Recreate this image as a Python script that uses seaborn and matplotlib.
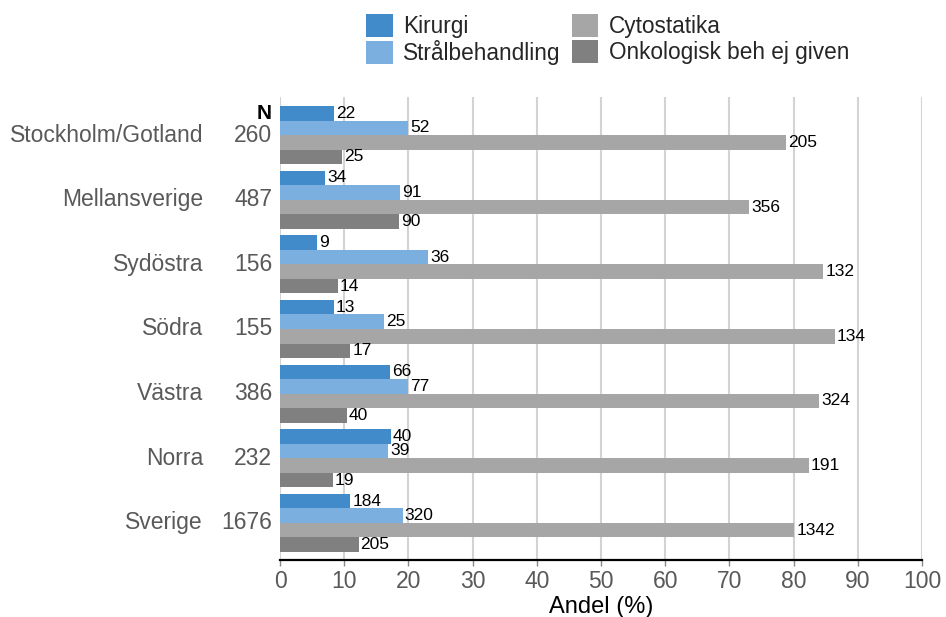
import matplotlib
matplotlib.use("Agg")
import matplotlib.pyplot as plt
from matplotlib.patches import Patch
import seaborn as sns
import pandas as pd

# Regional treatment counts
regions = ["Stockholm/Gotland", "Mellansverige", "Sydöstra", "Södra", "Västra", "Norra", "Sverige"]
n_total = [260, 487, 156, 155, 386, 232, 1676]
treatments = ["Kirurgi", "Strålbehandling", "Cytostatika", "Onkologisk beh ej given"]
kirurgi = [22, 34, 9, 13, 66, 40, 184]
stral = [52, 91, 36, 25, 77, 39, 320]
cytostatika = [205, 356, 132, 134, 324, 191, 1342]
ej_given = [25, 90, 14, 17, 40, 19, 205]
x_ticks = list(range(0, 101, 10))

colors = ["#428bca", "#7aafdf", "#a6a6a6", "#808080"]
series = [kirurgi, stral, cytostatika, ej_given]

rows = []
for t, vals in zip(treatments, series):
    for r, n, v in zip(regions, n_total, vals):
        rows.append({"region": r, "treatment": t, "count": v, "pct": v / n * 100})
df = pd.DataFrame(rows)

sns.set_theme(style="white")
plt.rcParams["font.family"] = ["Liberation Sans", "DejaVu Sans"]

W, H = 946, 617
fig = plt.figure(figsize=(W / 100, H / 100), dpi=100)
ax = fig.add_axes([280 / W, (H - 560) / H, 642 / W, (560 - 97) / H])

sns.barplot(data=df, y="region", x="pct", hue="treatment", hue_order=treatments,
            order=regions, orient="h", palette=colors, width=0.9, ax=ax,
            legend=False, errorbar=None, saturation=1, linewidth=0)

for cont, vals in zip(ax.containers, series):
    ax.bar_label(cont, labels=[str(v) for v in vals], padding=1.5,
                 fontsize=12.5, color="black")

ax.set_xlim(0, 100)
ax.set_ylim(6.575, -0.59)
ax.set_xticks(x_ticks)
ax.set_xticklabels([str(t) for t in x_ticks])
ax.tick_params(axis="x", labelsize=16.5, labelcolor="#595959", color="#888888",
               length=4, width=1, direction="out", bottom=True, pad=3)
ax.set_yticks([])
ax.set_ylabel("")
ax.set_xlabel("Andel (%)", fontsize=17, color="black", labelpad=2)
ax.grid(axis="x", color="#d3d3d3", linewidth=1.5)
ax.set_axisbelow(True)
for s in ["left", "right", "top"]:
    ax.spines[s].set_visible(False)
ax.spines["bottom"].set_color("black")
ax.spines["bottom"].set_linewidth(1.6)

ytr = ax.get_yaxis_transform()
for i, (r, n) in enumerate(zip(regions, n_total)):
    ax.text(-77 / 642, i, r, transform=ytr, ha="right", va="center",
            fontsize=16.5, color="#595959", clip_on=False)
    ax.text(-8 / 642, i, str(n), transform=ytr, ha="right", va="center",
            fontsize=16.5, color="#595959", clip_on=False)
ax.text(-8 / 642, -0.3375, "N", transform=ytr, ha="right", va="center",
        fontsize=15, fontweight="bold", color="black", clip_on=False)

handles = [Patch(facecolor=c, edgecolor="none", label=t) for c, t in zip(colors, treatments)]
fig.legend(handles=handles, loc="upper left", bbox_to_anchor=(366 / W, 1 - 14 / H),
           ncol=2, frameon=False, fontsize=16.3, borderpad=0, handlelength=1.18,
           handleheight=1.18, labelspacing=0.09, columnspacing=0.5,
           handletextpad=0.45, borderaxespad=0)

fig.savefig("out.png", dpi=100)
